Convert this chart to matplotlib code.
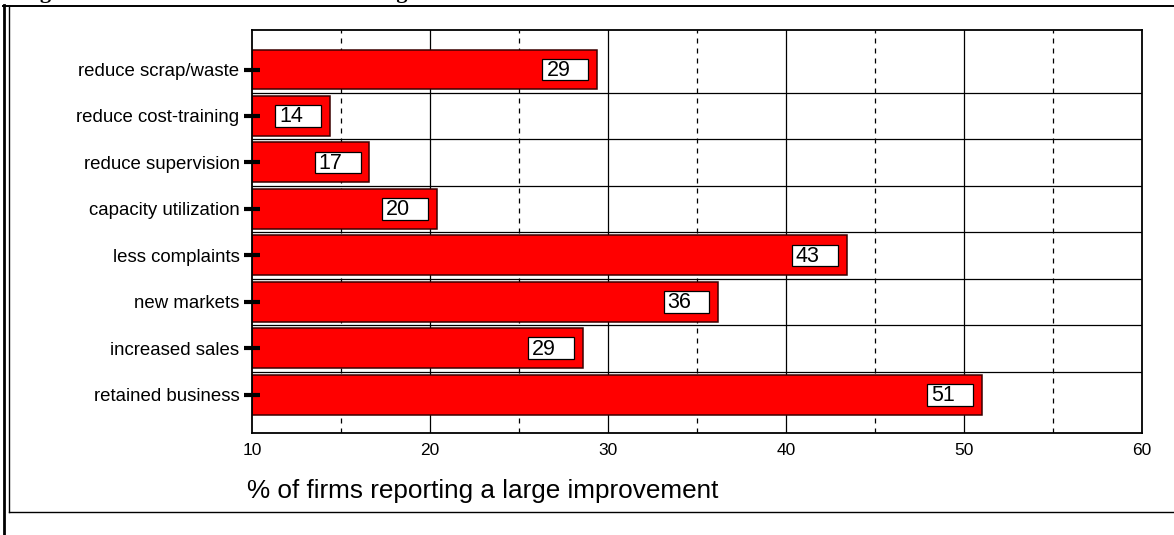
import matplotlib
matplotlib.use("Agg")
import matplotlib.pyplot as plt
from matplotlib.lines import Line2D
from matplotlib.patches import Rectangle

plt.rcParams['font.family'] = ['Liberation Sans', 'DejaVu Sans']

# outcomes, listed top to bottom
outcomes = ['reduce scrap/waste', 'reduce cost-training', 'reduce supervision',
            'capacity utilization', 'less complaints', 'new markets',
            'increased sales', 'retained business']
pct_large = [29.4, 14.4, 16.6, 20.4, 43.4, 36.2, 28.6, 51.0]

major_ticks = [10, 20, 30, 40, 50, 60]
minor_ticks = [15, 25, 35, 45, 55]

W, H = 1174, 535
fig = plt.figure(figsize=(W / 100, H / 100), dpi=100)
ax = fig.add_axes([252 / W, 1 - 433 / H, 890 / W, 403 / H])
ax.set_axisbelow(False)

ypos = list(range(len(outcomes)))

# grid behind the bars
for x in major_ticks[1:-1]:
    ax.axvline(x, color='black', lw=0.9, zorder=1)
for x in minor_ticks:
    ax.axvline(x, color='black', lw=0.9, ls=(0, (4, 4)), zorder=1)
for y in ypos[:-1]:
    ax.axhline(y + 0.5, color='black', lw=0.9, zorder=1)

ax.barh(ypos, [v - 10 for v in pct_large], left=10, height=0.86,
        color='#ff0000', edgecolor='#3a0000', linewidth=1.1, zorder=2)

# value boxes sitting inside the right end of each bar
box_w, box_h, gap = 2.58, 0.47, 0.5
for y, v in zip(ypos, pct_large):
    x0 = v - gap - box_w
    ax.add_patch(Rectangle((x0, y - box_h / 2), box_w, box_h, facecolor='white',
                           edgecolor='black', lw=0.9, zorder=3))
    ax.text(x0 + 0.22, y + 0.02, f'{v:.0f}', ha='left', va='center',
            fontsize=15.5, zorder=4)

ax.set_xlim(10, 60)
ax.set_ylim(7.82, -0.85)
ax.set_xticks(major_ticks)
ax.set_yticks(ypos)
ax.set_yticklabels(outcomes, fontsize=13.4)
ax.tick_params(axis='x', length=0, pad=7, labelsize=12.5)
ax.tick_params(axis='y', direction='inout', length=12, width=3, pad=3)
for s in ax.spines.values():
    s.set_linewidth(1.3)

fig.text(247 / W, 1 - 491 / H, '% of firms reporting a large improvement',
         fontsize=18.8, ha='left', va='center')

# page frame around the chart
def px_line(x0, y0, x1, y1, **kw):
    fig.add_artist(Line2D([x0 / W, x1 / W], [1 - y0 / H, 1 - y1 / H],
                          transform=fig.transFigure, color='black', **kw))

px_line(3, 5.5, W, 5.5, lw=1.4)
px_line(4, 5, 4, H, lw=2)
px_line(8.5, 6, 8.5, 512, lw=1)
px_line(8.5, 512, W, 512, lw=1)

fig.text(20 / W, 1 + 2 / H, 'Figure 5: Business Outcomes of Training',
         family='Liberation Serif', fontweight='bold', fontsize=16,
         ha='left', va='baseline')

fig.savefig('out.png', dpi=100)
